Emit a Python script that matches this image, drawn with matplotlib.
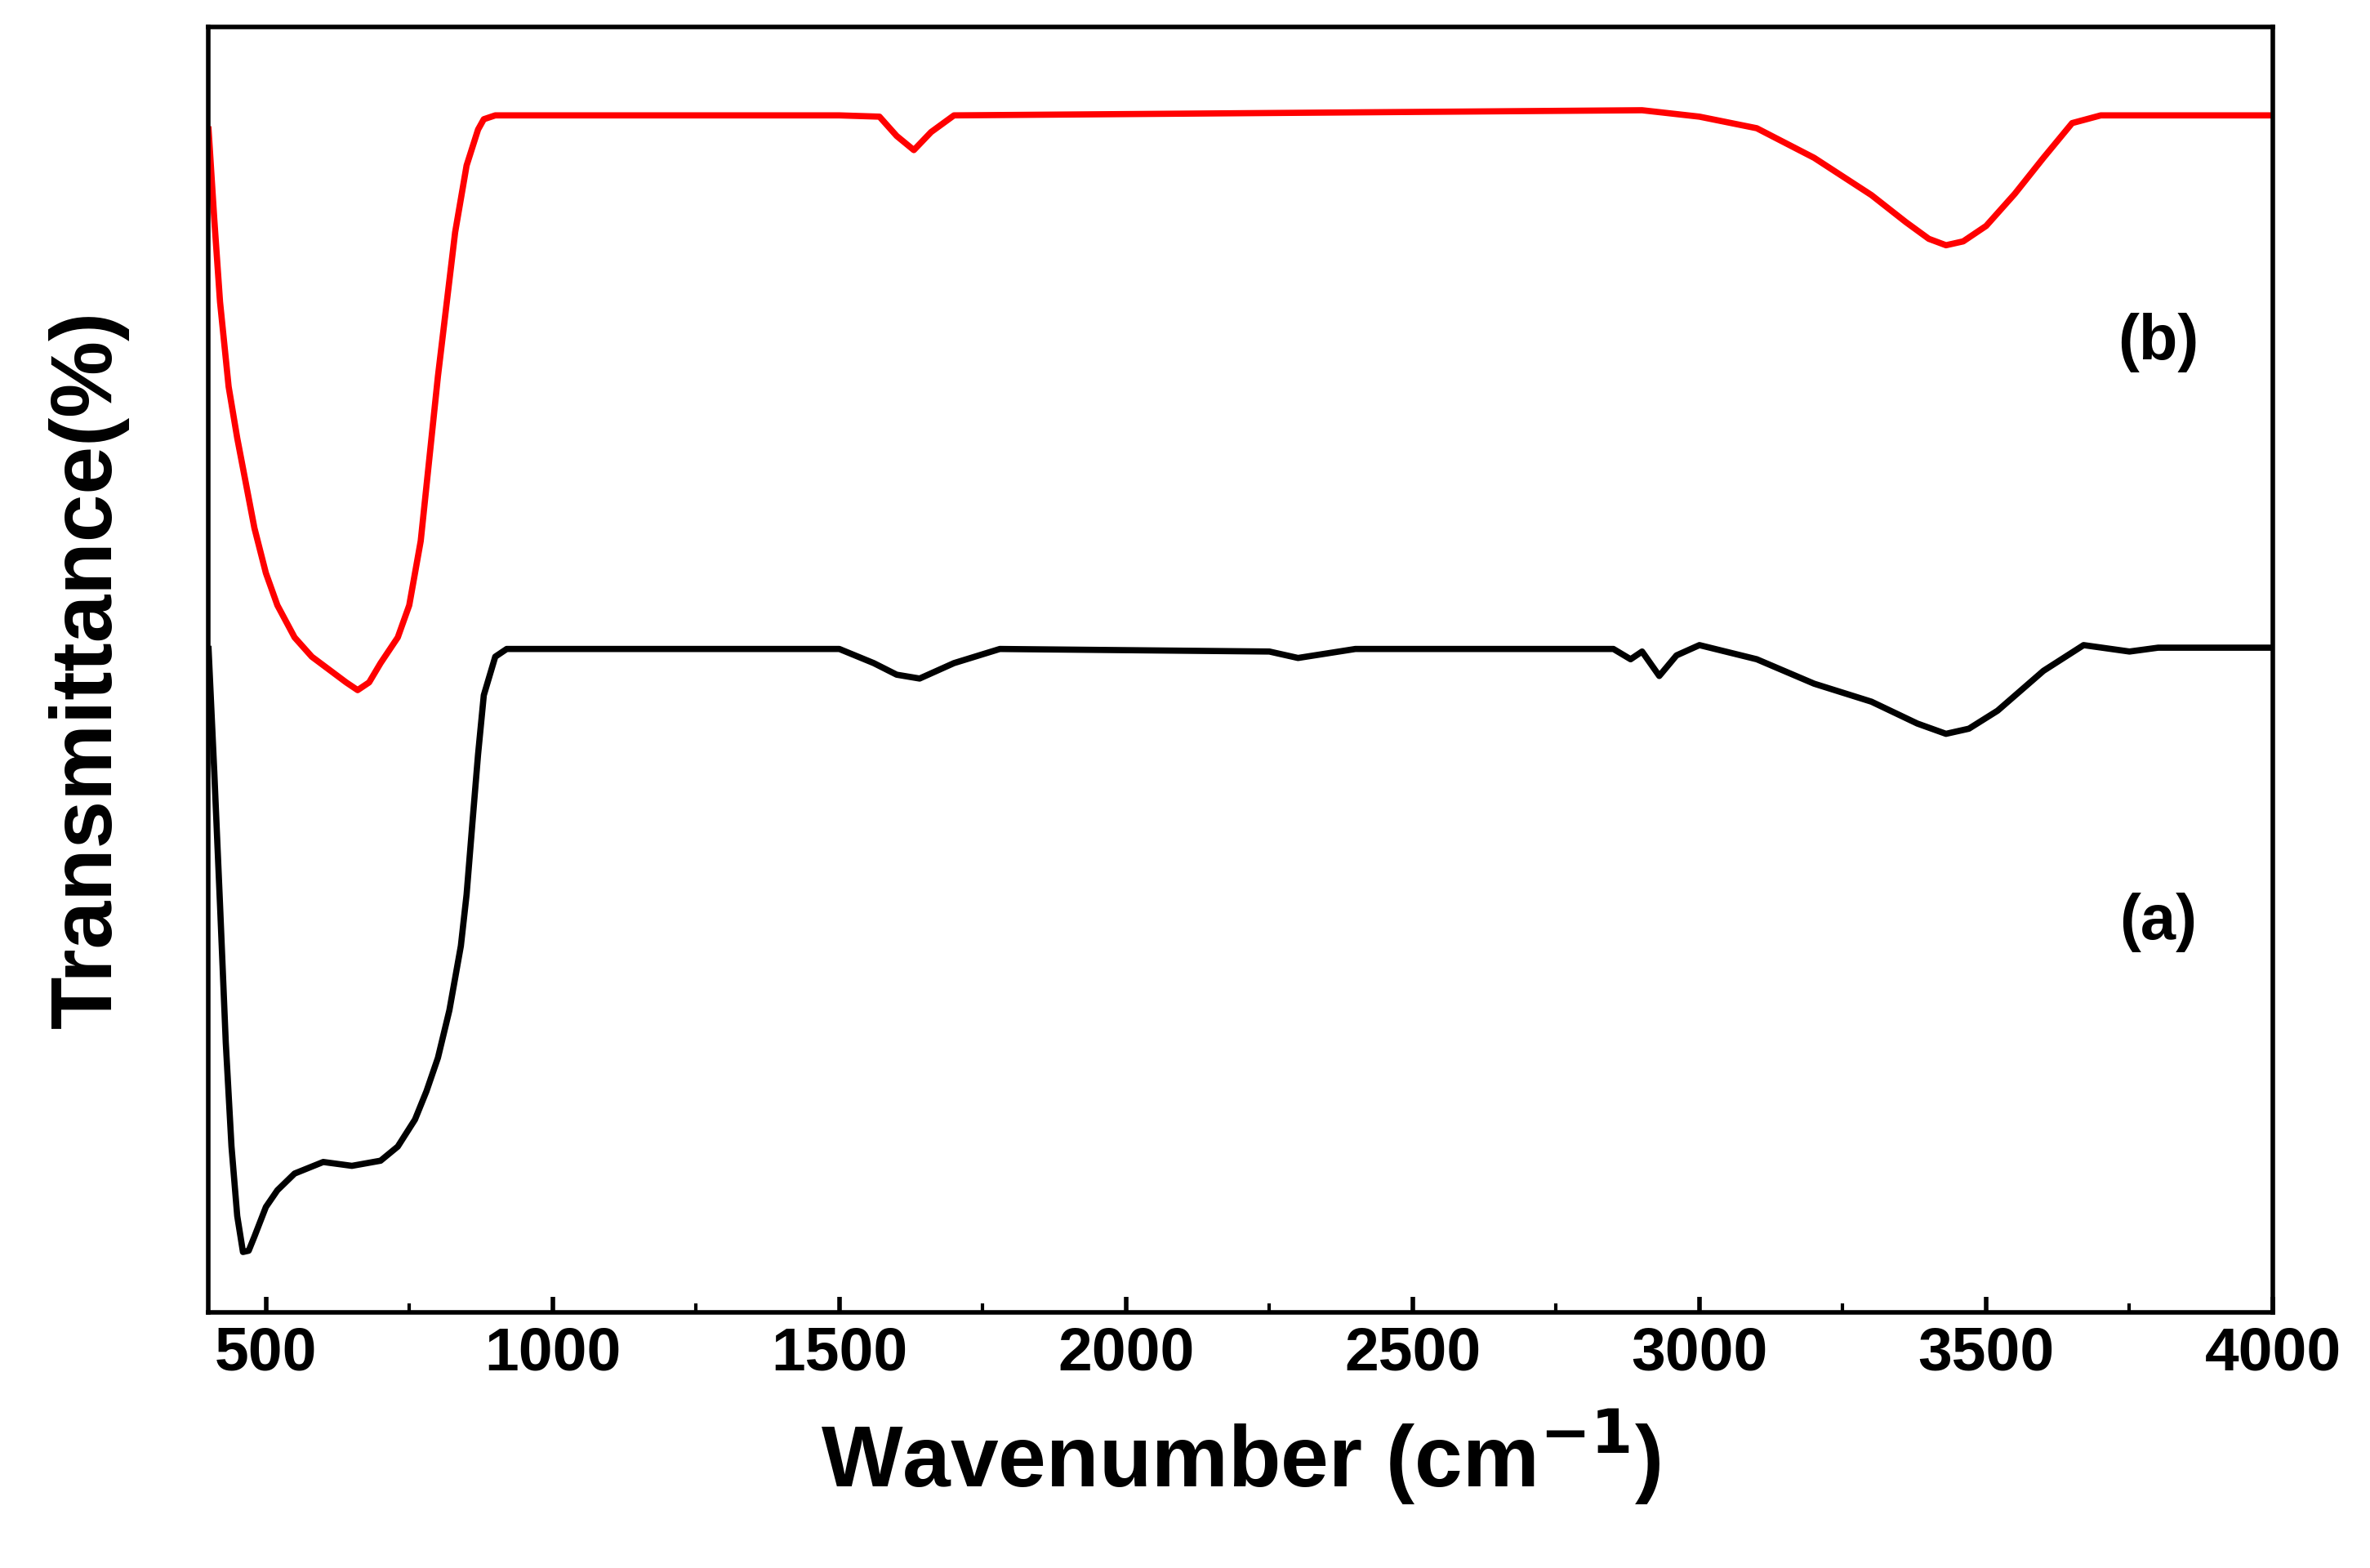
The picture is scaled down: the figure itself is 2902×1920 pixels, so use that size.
import matplotlib
matplotlib.use("Agg")
import matplotlib.pyplot as plt
import numpy as np

wn_b = [400,410,420,435,450,465,480,500,520,550,580,610,640,660,680,700,730,750,770,800,830,850,870,880,900,1500,1570,1600,1630,1660,1700,2900,3000,3100,3200,3300,3360,3400,3430,3460,3500,3550,3600,3650,3700,4000]
tr_b = [92,85,78.6,72,68,64.5,61,57.5,55,52.5,51,50,49,48.4,49,50.5,52.5,55,60,72.8,84,89.2,92,92.8,93.1,93.1,93.0,91.5,90.4,91.8,93.1,93.5,93.0,92.1,89.8,86.9,84.8,83.5,83.0,83.3,84.5,87,89.8,92.5,93.1,93.1]
wn_a = [400,410,420,430,440,450,460,470,480,500,520,550,600,650,700,730,760,780,800,820,840,850,860,870,880,900,920,1500,1560,1600,1640,1700,1780,2250,2300,2400,2850,2880,2900,2930,2960,3000,3100,3200,3300,3380,3430,3470,3520,3600,3670,3750,3800,4000]
tr_a = [51.6,42,31.7,21,12.9,7.5,4.7,4.8,5.9,8.2,9.5,10.8,11.7,11.4,11.8,12.9,15,17.2,19.8,23.5,28.5,32.5,38,43.4,48,51,51.6,51.6,50.5,49.6,49.3,50.5,51.6,51.4,50.9,51.6,51.6,50.8,51.4,49.5,51.1,51.9,50.8,48.9,47.5,45.8,45,45.4,46.8,49.9,51.9,51.4,51.7,51.7]
labels = ["(a)", "(b)"]

plt.rcParams['font.family'] = ['Liberation Sans', 'DejaVu Sans']
plt.rcParams['font.weight'] = 'bold'
plt.rcParams['mathtext.default'] = 'bf'
plt.rcParams['axes.unicode_minus'] = False
fig = plt.figure(figsize=(29.02, 19.2), dpi=100)
ax = fig.add_axes([0.088, 0.163, 0.871, 0.82])
ax.plot(wn_a, tr_a, color='black', lw=5.5)
ax.plot(wn_b, tr_b, color='red', lw=5.5)
ax.set_xlim(400, 4000)
ax.set_ylim(0, 100)
ax.set_yticks([])
ax.set_xticks([500,1000,1500,2000,2500,3000,3500,4000])
ax.set_xticks(np.arange(750, 4000, 500), minor=True)
ax.tick_params(axis='x', which='major', direction='in', length=14, width=4, labelsize=54, pad=12)
ax.tick_params(axis='x', which='minor', direction='in', length=8, width=3)
for s in ax.spines.values():
    s.set_linewidth(4)
for l in ax.get_xticklabels():
    l.set_fontweight('bold')
ax.set_xlabel('Wavenumber (cm$^{\\mathbf{-1}}$)', fontsize=76, fontweight='bold', labelpad=22)
ax.set_ylabel('Transmittance(%)', fontsize=76, fontweight='bold', labelpad=70)
ax.text(3800, 30.3, labels[0], fontsize=56, fontweight='bold', ha='center', va='center')
ax.text(3800, 75.4, labels[1], fontsize=56, fontweight='bold', ha='center', va='center')
fig.savefig('out.png', dpi=100)
